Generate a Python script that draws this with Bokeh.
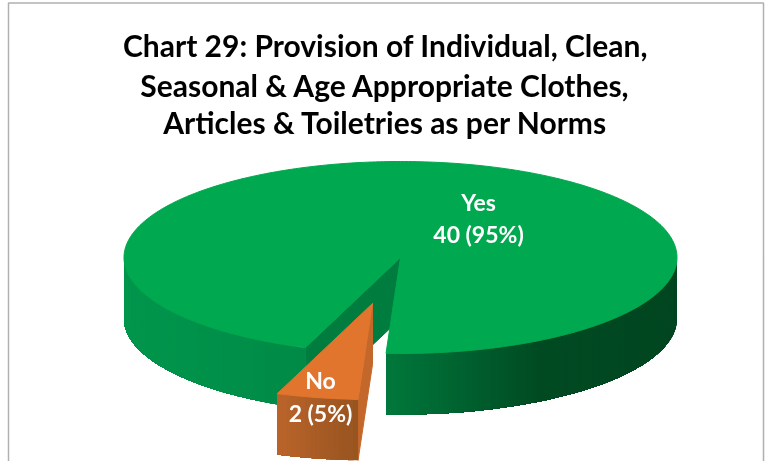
import numpy as np
from bokeh.plotting import figure
from bokeh.models import Range1d
from bokeh.core.properties import value
from bokeh.embed import file_html
from bokeh.resources import INLINE

# Data
title_lines = ["Chart 29: Provision of Individual, Clean,",
               "Seasonal & Age Appropriate Clothes,",
               "Articles & Toiletries as per Norms"]
categories = ["Yes", "No"]
counts = [40, 2]
percents = ["95%", "5%"]

# Layout (page pixels)
W, H = 768, 461
CX, CY, RX, RY, DEPTH = 400.0, 257.0, 276.5, 96.0, 61.0
NO_CX, NO_CY = 372.0, 303.0
START = 3.0

total = sum(counts)
no_sweep = 360.0 * counts[1] / total
no_end = START + no_sweep

def pt(cx, cy, phi):
    r = np.radians(phi)
    return cx - RX * np.sin(r), cy + RY * np.cos(r)

def hexmix(stops, x):
    xs = [s[0] for s in stops]
    rgb = [np.interp(x, xs, [s[1][i] for s in stops]) for i in range(3)]
    return "#%02x%02x%02x" % tuple(int(round(c)) for c in rgb)

p = figure(width=W, height=H, output_backend="svg", toolbar_location=None,
           x_range=Range1d(0, W), y_range=Range1d(H, 0), min_border=0,
           x_axis_type=None, y_axis_type=None, outline_line_color=None,
           background_fill_color="white", border_fill_color="white")
p.grid.visible = False
p.styles = {"position": "fixed", "left": "0", "top": "0"}

# Frame
p.line([8, 8, 763, 763], [461, 2.5, 2.5, 461], line_color="#b0b0b0", line_width=1.5)

def wall(cx, cy, a0, a1, stops):
    # Painter's overlap: each strip runs to the far end of the wall, the next one paints over it.
    phis = np.arange(a0, a1, 1.0)
    arc = np.linspace(a0, a1, 120)
    for f0 in phis:
        f = np.r_[f0, arc[arc > f0]]
        ax, ay = pt(cx, cy, f)
        x0, _ = pt(cx, cy, f0)
        x1, _ = pt(cx, cy, min(f0 + 1.0, a1))
        col = hexmix(stops, (x0 + x1) / 2)
        p.patch(np.r_[ax, ax[::-1]], np.r_[ay, ay[::-1] + DEPTH], fill_color=col, line_color=None)

GREEN_L = [(123, (0, 150, 76)), (305, (0, 138, 70))]
GREEN_R = [(386, (0, 120, 60)), (540, (0, 74, 34)), (676, (0, 70, 32))]
ORANGE = [(277, (186, 100, 42)), (358, (152, 84, 32))]

# Inner wall of the cut
ex, ey = pt(CX, CY, no_end)
p.patch([CX, CX, ex, ex], [CY, CY + DEPTH, ey + DEPTH, ey], fill_color="#007d3e", line_color="#007d3e")

# Outer walls
wall(CX, CY, -90, START, GREEN_R)
wall(CX, CY, no_end, 90, GREEN_L)

# Top of Yes slice
ph = np.linspace(no_end, 360 + START, 400)
tx, ty = pt(CX, CY, ph)
p.patch(np.r_[CX, tx], np.r_[CY, ty], fill_color="#00a84f", line_color="#00a84f")

# No slice (exploded)
sx, sy = pt(NO_CX, NO_CY, START)
p.patch([NO_CX, NO_CX, sx, sx], [NO_CY, NO_CY + DEPTH, sy + DEPTH, sy], fill_color="#c4672a", line_color="#c4672a")
wall(NO_CX, NO_CY, START, no_end, ORANGE)
ph = np.linspace(START, no_end, 40)
tx, ty = pt(NO_CX, NO_CY, ph)
p.patch(np.r_[NO_CX, tx], np.r_[NO_CY, ty], fill_color="#e2752e", line_color="#e2752e")

# Title
p.text([385] * 3, [44, 84, 121], text=title_lines, text_align="center", text_baseline="middle",
       text_font=value("Lato"), text_font_style="bold", text_font_size="30px", text_color="#000000")

# Slice labels
lab_x = [478, 320]
lab_y = [[201, 233], [379, 412]]
for i in range(2):
    p.text([lab_x[i]] * 2, lab_y[i], text=[categories[i], f"{counts[i]} ({percents[i]})"],
           text_align="center", text_baseline="middle", text_font=value("Lato"),
           text_font_style="bold", text_font_size="23px", text_color="#ffffff")

open("out.html", "w").write(file_html(p, INLINE))
